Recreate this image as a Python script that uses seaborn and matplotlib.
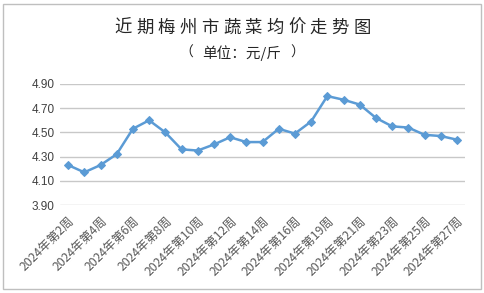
import matplotlib
matplotlib.use("Agg")
import matplotlib.pyplot as plt
import seaborn as sns
import pandas as pd
from matplotlib.patches import Rectangle

weeks = [2, 3, 4, 5, 6, 7, 8, 9, 10, 11, 12, 13, 14, 15, 16, 17, 19, 20, 21, 22, 23, 24, 25, 26, 27]
prices = [4.23, 4.17, 4.23, 4.32, 4.53, 4.60, 4.50, 4.36, 4.35, 4.40, 4.46, 4.42,
          4.42, 4.53, 4.49, 4.59, 4.80, 4.77, 4.73, 4.62, 4.55, 4.54, 4.48, 4.47, 4.44]
labels = [f"2024年第{w}周" for w in weeks]
yticks = [3.90, 4.10, 4.30, 4.50, 4.70, 4.90]
title = "近期梅州市蔬菜均价走势图"
subtitle_parts = ["（", "单位：元/斤", "）"]

sns.set_theme(style="white")
plt.rcParams['font.family'] = ['Noto Sans CJK SC', 'DejaVu Sans']

df = pd.DataFrame({"x": list(range(len(weeks))), "price": prices})

fig = plt.figure(figsize=(4.85, 2.93), dpi=100)
ax = fig.add_axes([60/485, 1-205/293, 405/485, 121/293])

sns.lineplot(data=df, x="x", y="price", ax=ax, color="#5B9BD5", linewidth=1.8,
             marker="D", markersize=4.5, markeredgecolor="#5B9BD5")

ax.set_xlim(-0.5, len(weeks)-0.5)
ax.set_ylim(3.90, 4.90)
ax.set_yticks(yticks)
ax.set_yticklabels([f"{v:.2f}" for v in yticks], fontsize=8.5, color="#404040",
                   family=['Liberation Sans', 'DejaVu Sans'])
idx = list(range(0, len(weeks), 2))
ax.set_xticks(idx)
ax.set_xticklabels([labels[i] for i in idx], rotation=45, ha="right",
                   rotation_mode="anchor", fontsize=8.8, color="#595959")
ax.tick_params(axis="x", length=0, pad=7)
ax.tick_params(axis="y", length=0, pad=4)
ax.grid(axis="y", color="#c8c8c8", linewidth=1)
ax.grid(axis="x", visible=False)
for s in ax.spines.values():
    s.set_visible(False)
ax.set_xlabel("")
ax.set_ylabel("")

# title with wide spacing
n = len(title)
x0, x1 = 123/485, 362/485
for i, ch in enumerate(title):
    fig.text(x0 + (x1 - x0) * i / (n - 1), 1 - 28/293, ch, ha="center", va="center",
             fontsize=12.5, color="#262626")
ys = 1 - 53/293
fig.text(186/485, ys, subtitle_parts[0], ha="center", va="center", fontsize=10, color="#262626")
fig.text(242/485, ys, subtitle_parts[1], ha="center", va="center", fontsize=10.5, color="#262626")
fig.text(297/485, ys, subtitle_parts[2], ha="center", va="center", fontsize=10, color="#262626")

fig.patches.append(Rectangle((3/485, 4/293), 478/485, 285/293, transform=fig.transFigure,
                             fill=False, edgecolor="#bfbfbf", linewidth=1))

fig.savefig("out.png", dpi=100)
